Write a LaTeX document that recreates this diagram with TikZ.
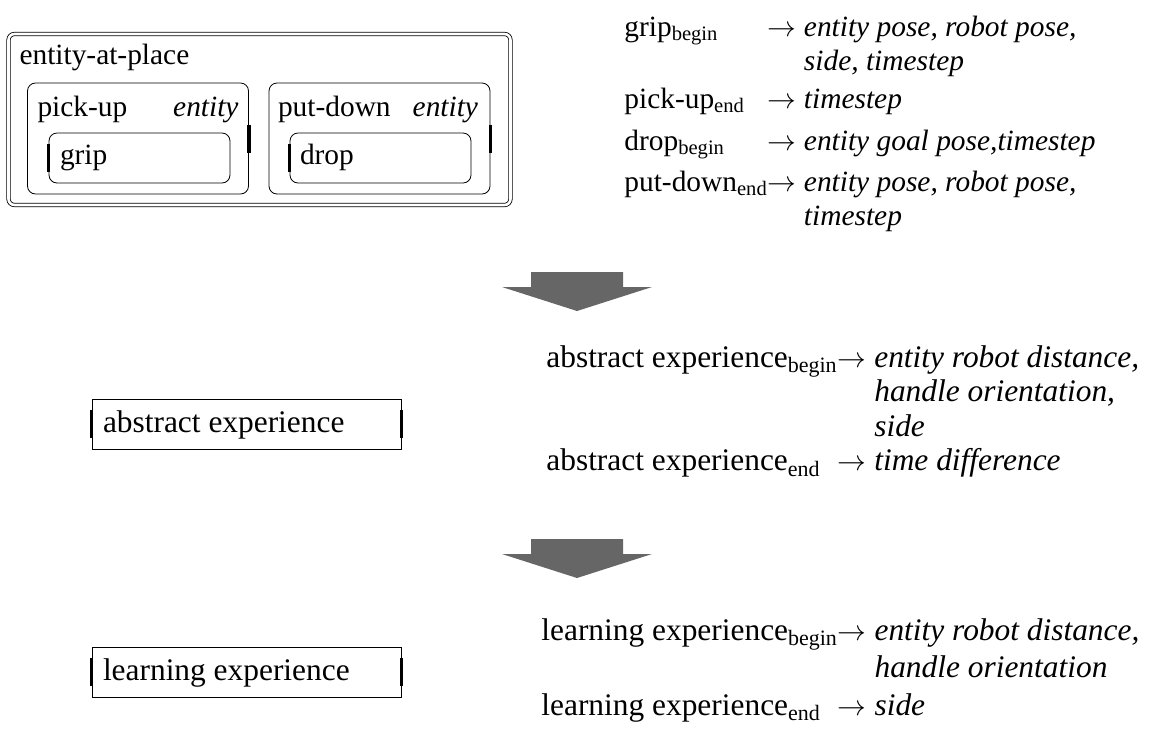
\documentclass[tikz,border=0pt]{standalone}
\usepackage{fontspec}
\setmainfont{Liberation Serif}
\usetikzlibrary{calc}
\definecolor{flowgray}{HTML}{666666}
\newcommand\topfont{\fontsize{14.7}{17}\selectfont}
\newcommand\lowfont{\fontsize{15.7}{17.3}\selectfont}
\tikzset{
  ctxbox/.style={
    draw,
    double,
    double distance=1.3pt,
    rounded corners=3pt,
    inner sep=0pt,
    minimum width=251pt,
    minimum height=85.5pt
  },
  actbox/.style={
    draw,
    rounded corners=4pt,
    inner sep=0pt,
    minimum width=110.5pt,
    minimum height=55.5pt
  },
  subbox/.style={
    draw,
    rounded corners=4pt,
    inner sep=0pt,
    minimum width=90.5pt,
    minimum height=25pt
  },
  expbox/.style={
    draw,
    inner sep=0pt,
    minimum width=154.5pt,
    minimum height=25pt
  },
  bar/.style={line width=1.6pt},
  lbl/.style={anchor=base west, inner sep=0pt},
  rlbl/.style={anchor=base east, inner sep=0pt},
  mapping/.style={anchor=base west, inner sep=0pt, align=left},
  flowarrow/.style={fill=flowgray, draw=none}
}

\begin{document}
\begin{tikzpicture}[x=0.5pt, y=-0.5pt]
  \useasboundingbox (0,0) rectangle (1160,740);

  % activity hierarchy
  \node[ctxbox] (place) at (259.5,119.5) {};
  \node[actbox] (pickup) at (138,138.5) {};
  \node[subbox] (grip) at (139.5,158) {};
  \node[actbox] (putdown) at (379.5,138.5) {};
  \node[subbox] (drop) at (380.5,158) {};

  \node[lbl] (placetxt) at ($(place.north west)+(11,31)$) {\topfont entity-at-place};
  \node[lbl] (pickuptxt) at ($(pickup.north west)+(10,34)$) {\topfont pick-up};
  \node[rlbl] (pickupent) at ($(pickup.north east)+(-10,34)$) {\topfont\itshape entity};
  \node[lbl] (griptxt) at ($(grip.north west)+(11,32)$) {\topfont grip};
  \node[lbl] (putdowntxt) at ($(putdown.north west)+(9,34)$) {\topfont put-down};
  \node[rlbl] (putdownent) at ($(putdown.north east)+(-12,34)$) {\topfont\itshape entity};
  \node[lbl] (droptxt) at ($(drop.north west)+(10,32)$) {\topfont drop};

  \draw[bar] ([yshift=7pt]pickup.east) -- ([yshift=-7pt]pickup.east);
  \draw[bar] ([yshift=7pt]grip.west) -- ([yshift=-7pt]grip.west);
  \draw[bar] ([yshift=7pt]putdown.east) -- ([yshift=-7pt]putdown.east);
  \draw[bar] ([yshift=7pt]drop.west) -- ([yshift=-7pt]drop.west);

  \node[mapping] (rawmap) at (624,36) {\topfont
    \begin{tabular}[t]{@{}l@{}l@{\ }l@{}}
      grip\textsubscript{begin} & $\rightarrow$ & \textit{entity pose, robot pose,}\\
       & & \textit{side, timestep}\\[2pt]
      pick-up\textsubscript{end} & $\rightarrow$ & \textit{timestep}\\[4pt]
      drop\textsubscript{begin} & $\rightarrow$ & \textit{entity goal pose,timestep}\\[3.5pt]
      put-down\textsubscript{end} & $\rightarrow$ & \textit{entity pose, robot pose,}\\
       & & \textit{timestep}
    \end{tabular}};

  % first step
  \fill[flowarrow] (531,272) -- (623,272) -- (623,287) -- (652,287)
    -- (577,311) -- (502,287) -- (531,287) -- cycle;

  \node[expbox] (abstract) at (246.5,424) {};
  \node[lbl] (abstracttxt) at ($(abstract.west)+(11,8)$) {\lowfont abstract experience};
  \draw[bar] ([yshift=7pt]abstract.west) -- ([yshift=-7pt]abstract.west);
  \draw[bar] ([yshift=7pt]abstract.east) -- ([yshift=-7pt]abstract.east);

  \node[mapping] (abstractmap) at (546,367) {\lowfont
    \begin{tabular}[t]{@{}l@{}l@{\ }l@{}}
      abstract experience\textsubscript{begin} & $\rightarrow$ & \textit{entity robot distance,}\\
       & & \textit{handle orientation,}\\
       & & \textit{side}\\
      abstract experience\textsubscript{end} & $\rightarrow$ & \textit{time difference}
    \end{tabular}};

  % second step
  \fill[flowarrow] (531,539) -- (623,539) -- (623,554) -- (652,554)
    -- (577,578) -- (502,554) -- (531,554) -- cycle;

  \node[expbox] (learning) at (246.5,672) {};
  \node[lbl] (learningtxt) at ($(learning.west)+(11,8)$) {\lowfont learning experience};
  \draw[bar] ([yshift=7pt]learning.west) -- ([yshift=-7pt]learning.west);
  \draw[bar] ([yshift=7pt]learning.east) -- ([yshift=-7pt]learning.east);

  \node[mapping] (learningmap) at (541,640) {\lowfont
    \begin{tabular}[t]{@{}l@{}l@{\ }l@{}}
      learning experience\textsubscript{begin} & $\rightarrow$ & \textit{entity robot distance,}\\[1.5pt]
       & & \textit{handle orientation}\\[1.5pt]
      learning experience\textsubscript{end} & $\rightarrow$ & \textit{side}
    \end{tabular}};
\end{tikzpicture}
\end{document}
